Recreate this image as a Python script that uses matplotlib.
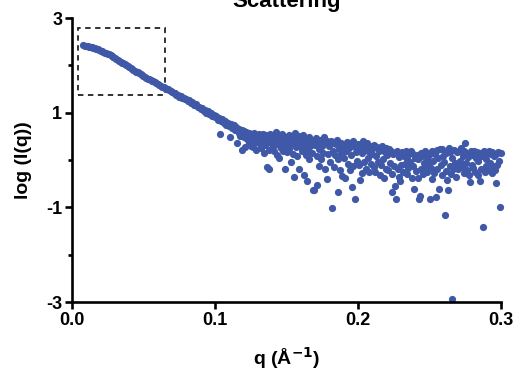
import matplotlib.pyplot as plt
from matplotlib.patches import Rectangle
from matplotlib.ticker import MultipleLocator

plt.rcParams['font.family'] = ['Liberation Sans', 'DejaVu Sans']
plt.rcParams['font.weight'] = 'bold'
plt.rcParams['axes.unicode_minus'] = False

# smooth low-q part of the curve
q_low = [0.008, 0.009, 0.010, 0.011, 0.012, 0.013, 0.014, 0.015,
         0.016, 0.017, 0.018, 0.019, 0.020, 0.021, 0.022, 0.023, 0.024, 0.025,
         0.026, 0.027, 0.028, 0.029, 0.030, 0.031, 0.032, 0.033, 0.034, 0.035,
         0.036, 0.037, 0.038, 0.039, 0.040, 0.041, 0.042, 0.043, 0.044, 0.045,
         0.046, 0.047, 0.048, 0.049, 0.050, 0.051, 0.052, 0.053, 0.054, 0.055,
         0.056, 0.057, 0.058, 0.059, 0.060, 0.061, 0.062, 0.063, 0.064, 0.065,
         0.066, 0.067, 0.068, 0.069, 0.070, 0.071, 0.072, 0.073, 0.074, 0.075,
         0.076, 0.077, 0.078, 0.079, 0.080, 0.081, 0.082, 0.083, 0.084, 0.085]
logI_low = [2.42, 2.41, 2.41, 2.40, 2.39, 2.39, 2.38, 2.37,
            2.36, 2.35, 2.34, 2.33, 2.31, 2.30, 2.29, 2.27, 2.26, 2.24,
            2.23, 2.21, 2.19, 2.18, 2.16, 2.14, 2.12, 2.10, 2.08, 2.06,
            2.04, 2.02, 2.00, 1.98, 1.96, 1.94, 1.92, 1.90, 1.88, 1.86,
            1.85, 1.83, 1.81, 1.79, 1.78, 1.76, 1.74, 1.72, 1.71, 1.69,
            1.67, 1.66, 1.64, 1.62, 1.61, 1.59, 1.57, 1.55, 1.54, 1.52,
            1.50, 1.49, 1.47, 1.45, 1.44, 1.42, 1.41, 1.37, 1.38, 1.34,
            1.35, 1.31, 1.32, 1.28, 1.29, 1.25, 1.26, 1.21, 1.23, 1.17]

# noisier part just after the bend
q_mid = [0.086, 0.087, 0.088, 0.089, 0.090, 0.091, 0.092, 0.093, 0.094, 0.095,
         0.096, 0.097, 0.098, 0.099, 0.100, 0.101, 0.102, 0.103, 0.1035, 0.104,
         0.105, 0.106, 0.107, 0.108, 0.109, 0.110, 0.1105, 0.111, 0.112, 0.113,
         0.114, 0.115, 0.1152, 0.1155, 0.116, 0.1165, 0.117, 0.1175, 0.118, 0.1185,
         0.1187, 0.119]
logI_mid = [1.16, 1.18, 1.11, 1.13, 1.07, 1.10, 1.03, 1.06, 1.00, 1.03,
            0.97, 0.99, 0.93, 0.96, 0.90, 0.92, 0.85, 0.89, 0.56, 0.83,
            0.86, 0.79, 0.82, 0.75, 0.79, 0.71, 0.49, 0.76, 0.68, 0.73,
            0.64, 0.70, 0.35, 0.66, 0.61, 0.57, 0.65, 0.51, 0.60, 0.54,
            0.21, 0.63]

q_high = [
    0.1200, 0.1205, 0.1210, 0.1215, 0.1220, 0.1225, 0.1230, 0.1235, 0.1240, 0.1245,
    0.1250, 0.1255, 0.1260, 0.1265, 0.1270, 0.1275, 0.1280, 0.1285, 0.1290, 0.1295,
    0.1300, 0.1305, 0.1310, 0.1315, 0.1320, 0.1325, 0.1330, 0.1335, 0.1340, 0.1345,
    0.1350, 0.1355, 0.1360, 0.1366, 0.1370, 0.1375, 0.1380, 0.1385, 0.1390, 0.1395,
    0.1400, 0.1405, 0.1410, 0.1415, 0.1420, 0.1425, 0.1430, 0.1435, 0.1440, 0.1445,
    0.1450, 0.1455, 0.1460, 0.1465, 0.1470, 0.1475, 0.1480, 0.1490, 0.1495, 0.1498,
    0.1500, 0.1505, 0.1510, 0.1515, 0.1520, 0.1525, 0.1530, 0.1535, 0.1540, 0.1550,
    0.1545, 0.1555, 0.1560, 0.1565, 0.1570, 0.1575, 0.1580, 0.1585, 0.1590, 0.1595,
    0.1600, 0.1605, 0.1610, 0.1615, 0.1620, 0.1625, 0.1630, 0.1640, 0.1635, 0.1645,
    0.1650, 0.1655, 0.1660, 0.1665, 0.1670, 0.1675, 0.1687, 0.1690, 0.1695, 0.1710]
logI_high = [
    0.62, 0.48, 0.28, 0.57, 0.60, 0.44, 0.52, 0.36, 0.58, 0.47,
    0.30, 0.55, 0.41, 0.28, 0.50, 0.57, 0.38, 0.46, 0.22, 0.53,
    0.48, 0.35, 0.56, 0.44, 0.25, 0.50, 0.39, 0.54, 0.14, 0.46,
    0.31, 0.52, 0.40, -0.14, 0.47, 0.22, -0.20, 0.55, 0.36, 0.43,
    0.50, 0.29, 0.42, 0.18, 0.53, 0.37, 0.60, 0.10, 0.45, 0.32,
    0.05, 0.48, 0.26, 0.41, 0.54, 0.20, 0.38, -0.20, 0.44, 0.30,
    0.48, 0.16, 0.36, 0.52, 0.24, 0.41, -0.05, 0.33, 0.46, -0.35,
    0.12, 0.39, 0.58, 0.27, 0.44, 0.08, 0.35, 0.50, -0.18, 0.30,
    0.42, 0.18, 0.33, 0.53, -0.32, 0.26, 0.44, -0.44, 0.10, 0.37,
    0.21, 0.49, 0.03, 0.30, 0.40, 0.15, -0.63, 0.34, -0.64, -0.53]

# flat, widely scattered tail
q_tail = [
    0.1700, 0.1706, 0.1712, 0.1718, 0.1724, 0.1730, 0.1736, 0.1742, 0.1748, 0.1754,
    0.1760, 0.1766, 0.1772, 0.1780, 0.1786, 0.1792,
    0.1800, 0.1806, 0.1812, 0.1816, 0.1822, 0.1828, 0.1834, 0.1840, 0.1846, 0.1852,
    0.1858, 0.1860, 0.1866, 0.1872, 0.1878, 0.1884, 0.1890, 0.1896,
    0.1902, 0.1908, 0.1912, 0.1918, 0.1924, 0.1930, 0.1936, 0.1942, 0.1948, 0.1954,
    0.1956, 0.1962, 0.1968, 0.1974, 0.1980, 0.1986, 0.1992, 0.1998,
    0.2004, 0.2010, 0.2015, 0.2020, 0.2025, 0.2031, 0.2037, 0.2043, 0.2049, 0.2055,
    0.2061, 0.2067, 0.2073, 0.2079, 0.2085, 0.2091, 0.2097,
    0.2103, 0.2109, 0.2115, 0.2121, 0.2127, 0.2133, 0.2139, 0.2145, 0.2151, 0.2157,
    0.2163, 0.2169, 0.2175, 0.2181, 0.2187, 0.2193, 0.2199,
    0.2205, 0.2211, 0.2217, 0.2223, 0.2229, 0.2236, 0.2240, 0.2246, 0.2252, 0.2259,
    0.2266, 0.2272, 0.2278, 0.2284, 0.2290, 0.2292, 0.2298,
    0.2304, 0.2310, 0.2316, 0.2322, 0.2328, 0.2334, 0.2340, 0.2346, 0.2352, 0.2358,
    0.2364, 0.2370, 0.2375, 0.2380, 0.2386, 0.2394, 0.2399,
    0.2404, 0.2410, 0.2417, 0.2422, 0.2430, 0.2433, 0.2438, 0.2444, 0.2450, 0.2456,
    0.2462, 0.2468, 0.2474, 0.2480, 0.2486, 0.2492, 0.2498,
    0.2500, 0.2506, 0.2511, 0.2517, 0.2520, 0.2526, 0.2532, 0.2538, 0.2545, 0.2550,
    0.2556, 0.2562, 0.2566, 0.2572, 0.2578, 0.2584, 0.2590, 0.2596,
    0.2600, 0.2608, 0.2612, 0.2618, 0.2622, 0.2629, 0.2634, 0.2640, 0.2646, 0.2652,
    0.2655, 0.2660, 0.2666, 0.2672, 0.2678, 0.2684, 0.2690, 0.2696,
    0.2702, 0.2708, 0.2714, 0.2720, 0.2726, 0.2732, 0.2738, 0.2744, 0.2748, 0.2752,
    0.2758, 0.2764, 0.2770, 0.2776, 0.2783, 0.2788, 0.2794,
    0.2800, 0.2806, 0.2812, 0.2818, 0.2824, 0.2830, 0.2836, 0.2842, 0.2850, 0.2856,
    0.2862, 0.2868, 0.2876, 0.2880, 0.2886, 0.2892, 0.2898,
    0.2904, 0.2910, 0.2916, 0.2922, 0.2928, 0.2934, 0.2940, 0.2946, 0.2952, 0.2958,
    0.2962, 0.2968, 0.2974, 0.2980, 0.2986, 0.2993, 0.2998]
logI_tail = [
    0.31, 0.46, 0.08, 0.38, -0.12, 0.24, 0.43, 0.02, 0.29, 0.15,
    0.48, -0.20, 0.35, -0.40, 0.40, 0.12,
    0.30, -0.05, 0.41, -1.02, 0.18, 0.36, -0.15, 0.10, 0.33, 0.42,
    0.02, -0.67, 0.24, -0.22, 0.37, 0.13, -0.34, 0.28,
    0.05, 0.30, -0.37, 0.20, 0.38, -0.08, 0.25, -0.22, 0.34, 0.11,
    -0.58, 0.40, -0.12, 0.29, -0.83, 0.16, -0.02, 0.33,
    0.22, -0.10, -0.42, 0.34, -0.28, 0.14, 0.40, -0.05, 0.26, -0.18,
    0.35, 0.05, 0.20, -0.25, 0.29, -0.08, 0.12,
    0.25, -0.14, 0.31, -0.26, 0.08, 0.28, -0.04, 0.18, -0.32, 0.22,
    -0.10, 0.30, 0.02, -0.38, 0.16, -0.18, 0.26,
    0.10, -0.22, 0.24, -0.06, 0.18, -0.67, -0.30, 0.12, -0.12, -0.55,
    -0.83, 0.20, -0.20, 0.06, -0.35, -0.44, 0.15,
    -0.10, 0.16, -0.26, 0.08, -0.08, 0.20, -0.30, 0.02, -0.16, 0.12,
    -0.04, 0.18, 0.15, -0.37, -0.12, -0.62, 0.05,
    -0.24, 0.10, -0.37, 0.02, -0.83, -0.77, 0.14, -0.18, 0.08, -0.30,
    -0.06, 0.18, -0.14, 0.05, -0.26, 0.12, -0.04,
    0.10, -0.82, -0.16, 0.18, -0.41, -0.02, -0.28, 0.12, -0.78, 0.22,
    -0.20, 0.04, -0.62, 0.24, -0.10, 0.23, -0.32, 0.08,
    -0.04, -1.16, -0.24, 0.14, -0.42, -0.63, 0.26, -0.12, 0.16, -0.30,
    -2.94, 0.05, -0.18, 0.22, -0.06, -0.36, 0.17, -0.08,
    -0.20, 0.18, -0.02, 0.25, -0.14, 0.08, -0.28, 0.20, 0.35, -0.06,
    0.14, -0.22, 0.06, -0.32, -0.46, 0.18, -0.10,
    0.10, -0.16, 0.20, -0.26, 0.04, 0.17, -0.32, -0.02, -0.44, 0.14,
    -0.20, 0.08, -1.41, 0.20, -0.26, 0.02, -0.12,
    0.15, -0.22, 0.20, -0.06, 0.12, -0.28, 0.16, -0.12, 0.08, -0.22,
    -0.48, 0.12, -0.10, 0.16, -0.02, -1.00, 0.15]

q = q_low + q_mid + q_high + q_tail
logI = logI_low + logI_mid + logI_high + logI_tail

# dashed zoom box
box_q = (0.0042, 0.065)
box_y = (1.37, 2.79)

fig = plt.figure(figsize=(5.19, 3.73), dpi=100)
ax = fig.add_axes([0.1387, 0.1903, 0.8266, 0.7614])

ax.plot(q, logI, 'o', color='#3f58a8', ms=5.2, mew=0, clip_on=False)

ax.add_patch(Rectangle((box_q[0], box_y[0]), box_q[1] - box_q[0], box_y[1] - box_y[0],
                       fill=False, ec='#222222', lw=1.3, ls=(0, (3, 2.5))))

ax.set_xlim(0, 0.3)
ax.set_ylim(-3, 3)
ax.set_xticks([0, 0.1, 0.2, 0.3])
ax.set_xticklabels(['0.0', '0.1', '0.2', '0.3'])
ax.set_yticks([-3, -1, 1, 3])
ax.yaxis.set_minor_locator(MultipleLocator(1))

for s in ['top', 'right']:
    ax.spines[s].set_visible(False)
for s in ['left', 'bottom']:
    ax.spines[s].set_linewidth(1.9)

ax.tick_params(which='major', length=5, width=1.9, labelsize=13, pad=2)
ax.tick_params(which='minor', axis='y', length=3, width=1.9)
for lab in ax.get_xticklabels() + ax.get_yticklabels():
    lab.set_fontweight('bold')

ax.set_xlabel('q (Å$^{\\mathbf{-1}}$)', fontsize=14, fontweight='bold', labelpad=12)
ax.set_ylabel('log (I(q))', fontsize=14, fontweight='bold', labelpad=10)
# title sits partly above the top edge, as in the source image
fig.text(0.553, 1 - 7 / 373, 'Scattering', fontsize=16, fontweight='bold',
         ha='center', va='baseline')

fig.savefig('out.png', dpi=100)
